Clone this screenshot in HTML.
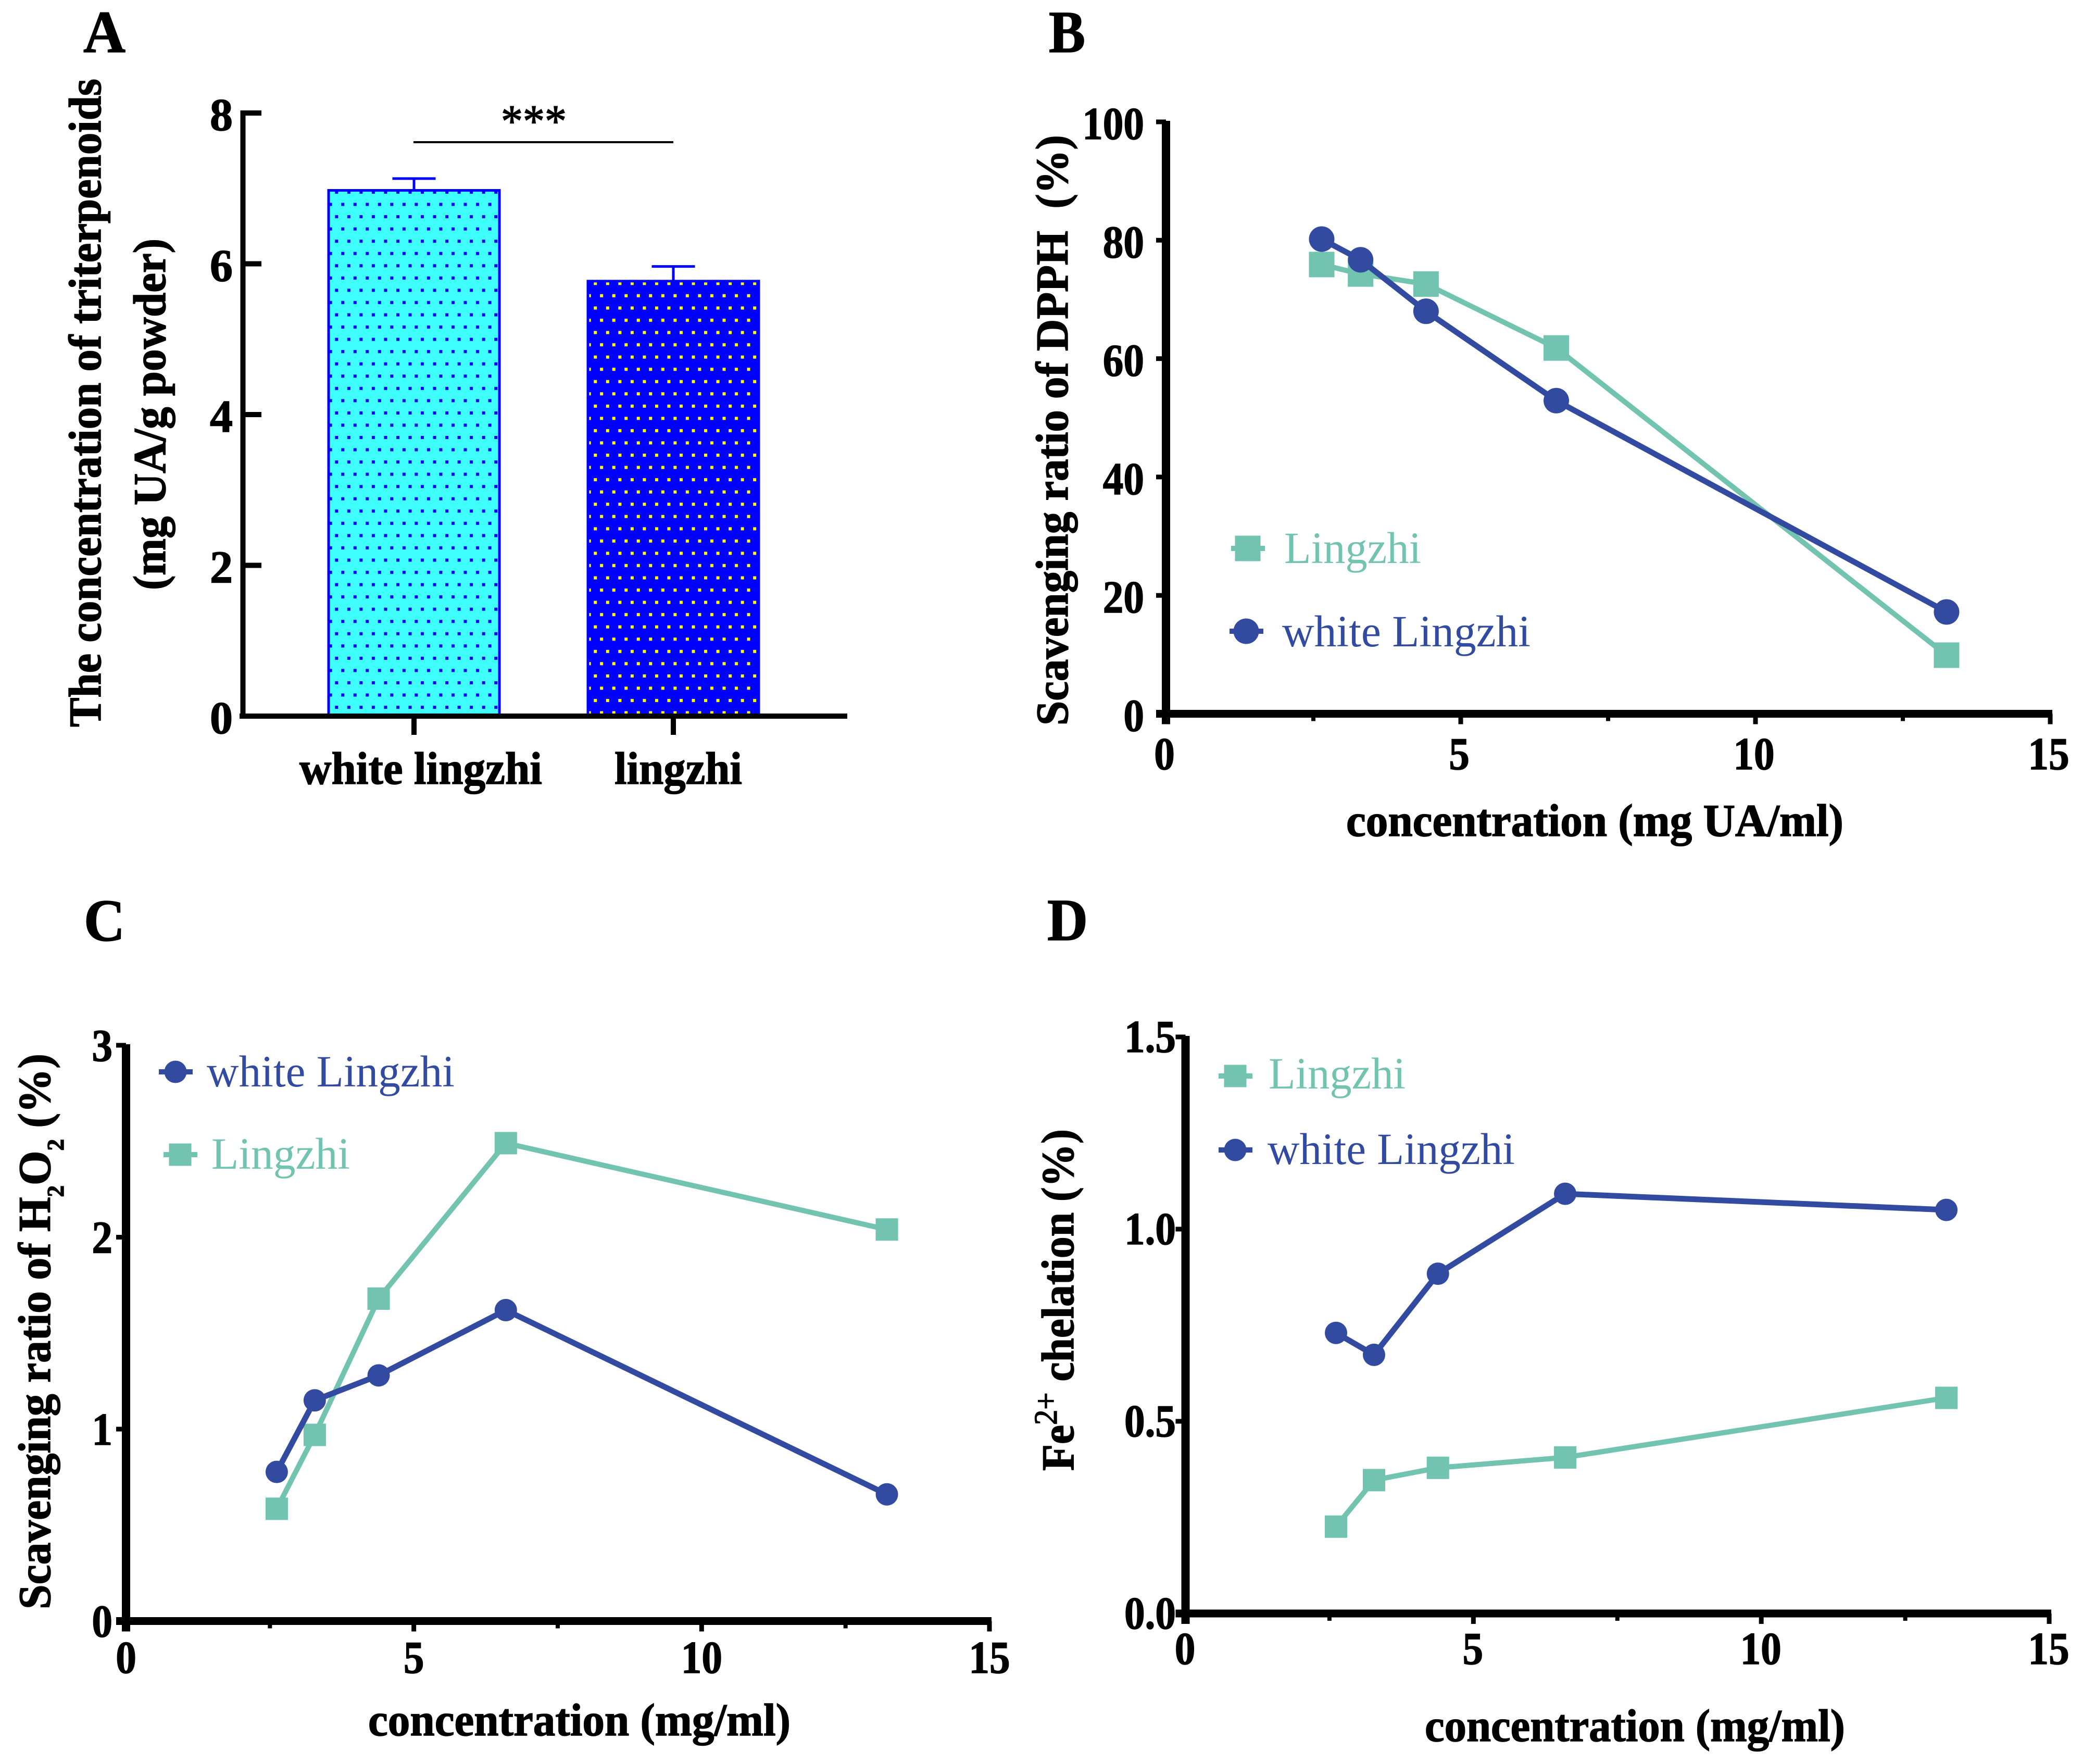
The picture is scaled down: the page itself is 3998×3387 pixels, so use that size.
<!DOCTYPE html>
<html lang="en">
<head>
<meta charset="utf-8">
<title>Triterpenoid concentration and antioxidant activity</title>
<style>
html,body{margin:0;padding:0;background:#fff;width:3998px;height:3387px;overflow:hidden}
svg{display:block;font-family:"Liberation Serif","Times New Roman",serif}
</style>
</head>
<body>
<svg id="figure" xmlns="http://www.w3.org/2000/svg" width="3998" height="3387" viewBox="0 0 3998 3387">
  <defs>
    <pattern id="dotsBlue" patternUnits="userSpaceOnUse" width="23.53" height="47.1" x="643.3" y="366">
      <rect width="23.53" height="47.1" fill="#40FFFF"/>
      <rect x="0" y="0" width="6" height="6" fill="#0000FF"/>
      <rect x="11.9" y="23.5" width="6" height="6" fill="#0000FF"/>
    </pattern>
    <pattern id="dotsYellow" patternUnits="userSpaceOnUse" width="23.53" height="47.1" x="1140.3" y="541.3">
      <rect width="23.53" height="47.1" fill="#0000FF"/>
      <rect x="0" y="0" width="6" height="6" fill="#FFFF00"/>
      <rect x="11.9" y="23.5" width="6" height="6" fill="#FFFF00"/>
    </pattern>
  </defs>
</svg>
<script>
/* ---------- Panel A data ---------- */
const barCategories = ['white lingzhi', 'lingzhi'];
const barValues = [6.974, 5.77];
const barErrors = [0.156, 0.195];
const barTicks = [0, 2, 4, 6, 8];

/* ---------- Panel B data ---------- */
const concentrations = [2.65, 3.31, 4.42, 6.63, 13.25];
const dpphLingzhi = [75.9, 74.3, 72.6, 61.8, 9.9];
const dpphWhite = [80.2, 76.7, 68, 52.9, 17.2];
const dpphTicks = [0, 20, 40, 60, 80, 100];

/* ---------- Panel C data ---------- */
const h2o2Lingzhi = [0.585, 0.97, 1.68, 2.49, 2.04];
const h2o2White = [0.777, 1.15, 1.28, 1.62, 0.66];
const h2o2Ticks = [0, 1, 2, 3];

/* ---------- Panel D data ---------- */
const feLingzhi = [0.226, 0.347, 0.379, 0.406, 0.561];
const feWhite = [0.73, 0.673, 0.884, 1.092, 1.05];
const feTicks = ['0.0', '0.5', '1.0', '1.5'];

/* ---------- Shared ticks ---------- */
const xMajorTicks = [0, 5, 10, 15];
const xMinorTicks = [2.5, 7.5, 12.5];

const TEAL = '#72C3AF';
const NAVY = '#324A9F';
const BLACK = '#000';
const SVGNS = 'http://www.w3.org/2000/svg';
const root = document.getElementById('figure');

function make(tag, name, parent, attrs) {
  const el = document.createElementNS(SVGNS, tag);
  
  
  for (const k in attrs) el.setAttribute(k, attrs[k]);
  (parent || root).appendChild(el);
  return el;
}

function group(name) {
  return make('g', name, root, {});
}

function line(name, parent, x1, y1, x2, y2, color, width) {
  return make('line', name, parent, { x1: x1, y1: y1, x2: x2, y2: y2, stroke: color, 'stroke-width': width });
}

/* Place text so that it spans a target length; rotate=true runs it bottom-to-top. */
function label(name, parent, parts, x, y, size, opts) {
  const o = opts || {};
  const color = o.color || BLACK;
  const weight = o.weight || 'bold';
  const el = make('text', name, parent, {
    'font-size': size,
    'font-weight': weight,
    fill: color,
    stroke: color,
    'stroke-width': o.stroke !== undefined ? o.stroke : (weight === 'bold' ? 1.5 : 0),
    'text-anchor': o.anchor || 'start',
    'xml:space': 'preserve'
  });
  el.style.whiteSpace = 'pre';
  (Array.isArray(parts) ? parts : [parts]).forEach(function (p) {
    const span = document.createElementNS(SVGNS, 'tspan');
    if (typeof p === 'string') {
      span.textContent = p;
      el.appendChild(span);
    } else {
      span.textContent = p.t;
      span.setAttribute('font-size', p.size);
      span.setAttribute('font-weight', p.weight || 'bold');
      span.setAttribute('dy', p.dy);
      el.appendChild(span);
    }
  });
  const natural = el.getComputedTextLength() || 1;
  const sx = o.len ? o.len / natural : (o.sx || 1);
  el.setAttribute('transform', 'translate(' + x + ',' + y + ')' + (o.rotate ? ' rotate(-90)' : '') + ' scale(' + sx + ',1)');
  return el;
}

/* ---------- Panel A: bars ---------- */
(function () {
  const g = group('panel-a');
  const y = function (v) { return 1375 - v * 144.75; };
  const cx = function (i) { return 795 + i * 498; };
  const half = 164;

  label('panel-a-letter', g, 'A', 160, 100, 114, { len: 81 });

  barCategories.forEach(function (cat, i) {
    const fillId = i === 0 ? 'dotsBlue' : 'dotsYellow';
    make('rect', i === 0 ? 'bar-white-lingzhi' : 'bar-lingzhi', g, {
      x: cx(i) - half, y: y(barValues[i]),
      width: half * 2, height: y(0) - y(barValues[i]),
      fill: 'url(#' + fillId + ')', stroke: '#0000FF', 'stroke-width': 5
    });
    const errTop = y(barValues[i] + barErrors[i]);
    line(i === 0 ? 'error-stem-white-lingzhi' : 'error-stem-lingzhi', g, cx(i), y(barValues[i]), cx(i), errTop, '#0000FF', 5);
    line(i === 0 ? 'error-cap-white-lingzhi' : 'error-cap-lingzhi', g, cx(i) - 41.5, errTop, cx(i) + 41.5, errTop, '#0000FF', 5);
    line('x-tick', g, cx(i), 1375, cx(i), 1411, BLACK, 10);
  });

  line('y-axis', g, 466.5, 212, 466.5, 1380, BLACK, 10);
  line('x-axis', g, 460, 1375, 1627, 1375, BLACK, 10);

  barTicks.forEach(function (t) {
    line('y-tick', g, 462, y(t), 502, y(t), BLACK, 10);
    label('y-tick-label', g, String(t), 447, y(t) + 33, 88, { anchor: 'end' });
  });

  label('x-label-white-lingzhi', g, barCategories[0], 575, 1505, 88, { len: 466 });
  label('x-label-lingzhi', g, barCategories[1], 1180, 1505, 88, { len: 245 });
  label('y-axis-title-line-1', g, 'The concentration of triterpenoids', 193, 1396, 88, { rotate: true, len: 1245 });
  label('y-axis-title-line-2', g, '(mg UA/g powder)', 317, 1133, 88, { rotate: true, len: 675 });

  line('significance-bracket', g, 794, 273, 1293, 273, BLACK, 4);
  label('significance-stars', g, '***', 962, 262, 88, { weight: 'normal', len: 126, stroke: 1.5 });
})();

/* ---------- Line panels ---------- */
function linePanel(cfg) {
  const g = group(cfg.id);
  const x = function (v) { return cfg.x0 + (v / 15) * (cfg.x15 - cfg.x0); };
  const y = function (v) { return cfg.y0 - (v / cfg.yMax) * (cfg.y0 - cfg.yTop); };

  label(cfg.id + '-letter', g, cfg.letter, cfg.letterX, cfg.letterY, 114, { len: cfg.letterLen });

  line('y-axis', g, cfg.x0, cfg.yTop - 2, cfg.x0, cfg.y0 + 20, BLACK, 16);
  line('x-axis', g, cfg.x0 - 19, cfg.y0, cfg.x15 + 4, cfg.y0, BLACK, 15);

  cfg.yTicks.forEach(function (t) {
    const v = parseFloat(t);
    line('y-tick', g, cfg.x0 - 19, y(v), cfg.x0, y(v), BLACK, 9);
    label('y-tick-label', g, String(t), cfg.yLabelRight, y(v) + cfg.yLabelDy, 88, { anchor: 'end', sx: cfg.tickSx });
  });
  xMajorTicks.forEach(function (t) {
    line('x-tick', g, x(t), cfg.y0, x(t), cfg.y0 + 20, BLACK, 9);
    label('x-tick-label', g, String(t), x(t) - cfg.xLabelShift, cfg.xLabelY, 88, { anchor: 'middle', sx: cfg.tickSx });
  });
  xMinorTicks.forEach(function (t) {
    line('x-minor-tick', g, x(t), cfg.y0, x(t), cfg.y0 + 14, BLACK, 8);
  });

  label('x-axis-title', g, cfg.xTitle, cfg.xTitleX, cfg.xTitleY, 88, { len: cfg.xTitleLen });
  label('y-axis-title', g, cfg.yTitle, cfg.yTitleX, cfg.yTitleY, 88, { rotate: true, len: cfg.yTitleLen });

  function series(name, values, color, kind, width) {
    const s = group('series-' + name);
    g.appendChild(s);
    const pts = concentrations.map(function (c, i) { return (x(c) + cfg.dx) + ',' + y(values[i]); }).join(' ');
    make('polyline', name + '-line', s, { points: pts, fill: 'none', stroke: color, 'stroke-width': width, 'stroke-linejoin': 'round' });
    concentrations.forEach(function (c, i) {
      marker(name + '-point', s, kind, x(c) + cfg.dx, y(values[i]), color, cfg.m, cfg.m);
    });
  }

  series('lingzhi', cfg.lingzhi, TEAL, 'square', 10);
  series('white-lingzhi', cfg.white, NAVY, 'circle', 11);

  cfg.legend.forEach(function (it) {
    const isWhite = it.text === 'white Lingzhi';
    const color = isWhite ? NAVY : TEAL;
    const lg = group(isWhite ? 'legend-entry-white-lingzhi' : 'legend-entry-lingzhi');
    g.appendChild(lg);
    line('legend-line', lg, it.mx - 32, it.my, it.mx + 33, it.my, color, 10);
    marker('legend-marker', lg, isWhite ? 'circle' : 'square', it.mx, it.my, color, cfg.m, cfg.m);
    label('legend-label', lg, it.text, it.tx, it.ty, 86, { weight: 'normal', color: color, len: it.tlen });
  });
}

function marker(name, parent, kind, cx, cy, color, w, h) {
  if (kind === 'square') {
    make('rect', name, parent, { x: cx - w / 2, y: cy - h / 2, width: w, height: h, fill: color });
  } else {
    make('ellipse', name, parent, { cx: cx, cy: cy, rx: w / 2, ry: h / 2, fill: color });
  }
}

linePanel({
  id: 'panel-b', letter: 'B', letterX: 2014, letterY: 100, letterLen: 70,
  x0: 2239, x15: 3937, y0: 1370.5, yTop: 234, yMax: 100, dx: -1,
  yTicks: dpphTicks, yLabelRight: 2197, yLabelDy: 33, tickSx: 0.9,
  xLabelY: 1477, xLabelShift: 3,
  xTitle: 'concentration (mg UA/ml)', xTitleX: 2585, xTitleY: 1605, xTitleLen: 955,
  yTitle: 'Scavenging ratio of DPPH  (%)', yTitleX: 2050, yTitleY: 1393, yTitleLen: 1134,
  lingzhi: dpphLingzhi, white: dpphWhite, m: 49,
  legend: [
    { text: 'Lingzhi', mx: 2396, my: 1053, tx: 2466, ty: 1081, tlen: 263 },
    { text: 'white Lingzhi', mx: 2393, my: 1212, tx: 2462, ty: 1241, tlen: 477 }
  ]
});

linePanel({
  id: 'panel-c', letter: 'C', letterX: 161, letterY: 1806, letterLen: 79,
  x0: 242, x15: 1900, y0: 3112.5, yTop: 2007, yMax: 3, dx: -3.5,
  yTicks: h2o2Ticks, yLabelRight: 216, yLabelDy: 30, tickSx: 0.9,
  xLabelY: 3212, xLabelShift: 0,
  xTitle: 'concentration (mg/ml)', xTitleX: 707, xTitleY: 3332, xTitleLen: 811,
  yTitle: ['Scavenging ratio of H', { t: '2', size: 46, dy: 26 }, { t: 'O', size: 88, dy: -26 }, { t: '2', size: 46, dy: 26 }, { t: ' (%)', size: 88, dy: -26 }],
  yTitleX: 96, yTitleY: 3090, yTitleLen: 1067,
  lingzhi: h2o2Lingzhi, white: h2o2White, m: 43,
  legend: [
    { text: 'white Lingzhi', mx: 337, my: 2058, tx: 397, ty: 2086, tlen: 476 },
    { text: 'Lingzhi', mx: 346, my: 2217, tx: 406, ty: 2244, tlen: 266 }
  ]
});

linePanel({
  id: 'panel-d', letter: 'D', letterX: 2011, letterY: 1805, letterLen: 78,
  x0: 2276.5, x15: 3935, y0: 3098, yTop: 1991, yMax: 1.5, dx: -4,
  yTicks: feTicks, yLabelRight: 2258, yLabelDy: 29, tickSx: 0.9,
  xLabelY: 3195, xLabelShift: 1,
  xTitle: 'concentration (mg/ml)', xTitleX: 2736, xTitleY: 3343, xTitleLen: 807,
  yTitle: ['Fe', { t: '2+', size: 62, dy: -32, weight: 'normal' }, { t: ' chelation (%)', size: 88, dy: 32 }],
  yTitleX: 2061, yTitleY: 2824, yTitleLen: 656,
  lingzhi: feLingzhi, white: feWhite, m: 43,
  legend: [
    { text: 'Lingzhi', mx: 2372, my: 2066, tx: 2436, ty: 2090, tlen: 263 },
    { text: 'white Lingzhi', mx: 2372, my: 2208, tx: 2434, ty: 2235, tlen: 475 }
  ]
});
</script>
</body>
</html>
